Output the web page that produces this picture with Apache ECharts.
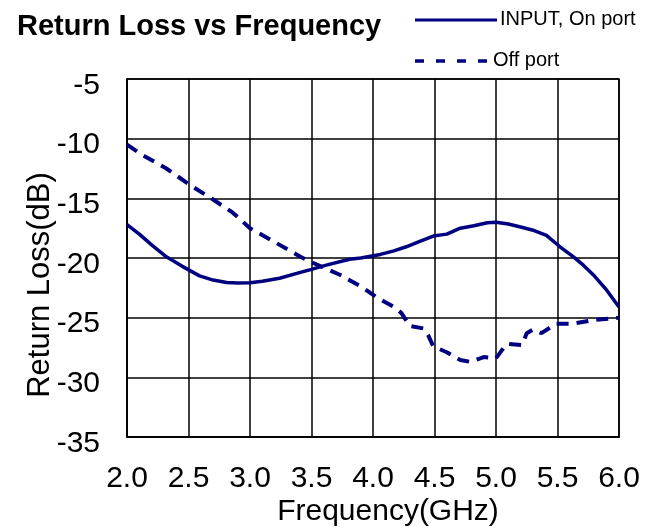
<!DOCTYPE html>
<html>
<head>
<meta charset="utf-8">
<script src="https://cdn.jsdelivr.net/npm/echarts@6/dist/echarts.min.js"></script>
<style>
html,body{margin:0;padding:0;background:#fff;}
#c{width:646px;height:527px;}
</style>
</head>
<body>
<div id="c"></div>
<script>
// ---- data ----
const titleText = 'Return Loss vs Frequency';
const seriesNames = ['INPUT, On port', 'Off port'];
const xAxisName = 'Frequency(GHz)';
const yAxisName = 'Return Loss(dB)';

const freqOn = [2.0, 2.1, 2.2, 2.32, 2.45, 2.59, 2.7, 2.81, 2.9, 3.0, 3.1, 3.24, 3.41, 3.5, 3.62, 3.81, 3.9, 4.06, 4.17, 4.27, 4.38, 4.49, 4.6, 4.71, 4.82, 4.93, 5.0, 5.1, 5.2, 5.31, 5.41, 5.52, 5.63, 5.71, 5.79, 5.9, 6.0];
const rlOn   = [-17.2, -18.0, -18.9, -19.9, -20.7, -21.5, -21.85, -22.05, -22.1, -22.07, -21.95, -21.7, -21.2, -20.95, -20.6, -20.1, -20.0, -19.7, -19.4, -19.06, -18.6, -18.16, -18.0, -17.5, -17.3, -17.04, -17.0, -17.15, -17.4, -17.7, -18.1, -19.06, -19.9, -20.6, -21.4, -22.7, -24.1];

const freqOff = [2.0, 2.13, 2.32, 2.5, 2.7, 2.86, 3.0, 3.19, 3.41, 3.51, 3.73, 3.92, 4.03, 4.17, 4.23, 4.3, 4.41, 4.45, 4.49, 4.6, 4.71, 4.79, 4.9, 5.0, 5.05, 5.09, 5.21, 5.25, 5.3, 5.37, 5.49, 5.63, 5.79, 6.0];
const rlOff   = [-10.5, -11.4, -12.5, -13.8, -15.1, -16.2, -17.5, -18.6, -19.9, -20.4, -21.4, -22.5, -23.3, -24.1, -24.6, -25.7, -25.9, -26.5, -27.4, -27.9, -28.55, -28.7, -28.3, -28.4, -27.7, -27.2, -27.3, -26.3, -26.0, -26.3, -25.5, -25.5, -25.2, -25.0];

const xMin = 2.0, xMax = 6.0, xStep = 0.5;
const yMin = -35, yMax = -5, yStep = 5;

// ---- chart ----
const NAVY = '#000080';
const FONT = '"Liberation Sans", Arial, Helvetica, sans-serif';
const zip = (a, b) => a.map((v, i) => [v, b[i]]);

const chart = echarts.init(document.getElementById('c'), null, {renderer: 'canvas'});
chart.setOption({
  animation: false,
  backgroundColor: '#fff',
  grid: {left: 127, top: 79, width: 492, height: 358, containLabel: false, outerBoundsMode: 'none',
         show: true, borderColor: '#000', borderWidth: 1.5, backgroundColor: 'transparent'},
  xAxis: {
    type: 'value', min: xMin, max: xMax, interval: xStep,
    axisLine: {show: true, lineStyle: {color: '#000', width: 1.5}},
    axisTick: {show: false},
    splitLine: {show: true, lineStyle: {color: '#000', width: 1.5}},
    axisLabel: {fontFamily: FONT, fontSize: 30, color: '#000', margin: 27,
                formatter: v => v.toFixed(1)}
  },
  yAxis: {
    type: 'value', min: yMin, max: yMax, interval: yStep,
    axisLine: {show: true, lineStyle: {color: '#000', width: 1.5}},
    axisTick: {show: false},
    splitLine: {show: true, lineStyle: {color: '#000', width: 1.5}},
    axisLabel: {color: '#000', margin: 27, verticalAlign: 'middle',
                formatter: v => '{t|' + v + '}',
                rich: {t: {fontFamily: FONT, fontSize: 30, color: '#000', padding: [13, 0, 0, 0]}}}
  },
  series: [
    {name: seriesNames[0], type: 'line', data: zip(freqOn, rlOn), symbol: 'none',
     lineStyle: {color: NAVY, width: 3.5, type: 'solid'}, z: 3},
    {name: seriesNames[1], type: 'line', data: zip(freqOff, rlOff), symbol: 'none',
     lineStyle: {color: NAVY, width: 4, type: [12, 8]}, z: 4}
  ],
  graphic: [
    {type: 'text', left: 17, top: 12, style: {text: titleText, font: 'bold 29px ' + FONT, fill: '#000'}},
    {type: 'line', shape: {x1: 415, y1: 20, x2: 497, y2: 20}, style: {stroke: NAVY, lineWidth: 3}},
    {type: 'text', x: 500, y: 19, style: {text: seriesNames[0], font: '20px ' + FONT, fill: '#000', verticalAlign: 'middle'}},
    {type: 'line', shape: {x1: 415, y1: 61, x2: 487, y2: 61}, style: {stroke: NAVY, lineWidth: 3.5, lineDash: [9, 12]}},
    {type: 'text', x: 493, y: 60, style: {text: seriesNames[1], font: '20px ' + FONT, fill: '#000', verticalAlign: 'middle'}},
    {type: 'text', x: 388, y: 512, style: {text: xAxisName, font: '30px ' + FONT, fill: '#000', align: 'center', verticalAlign: 'middle'}},
    {type: 'text', x: 40, y: 285, rotation: Math.PI / 2, style: {text: yAxisName, font: '31px ' + FONT, fill: '#000', align: 'center', verticalAlign: 'middle'}}
  ]
});
</script>
</body>
</html>
